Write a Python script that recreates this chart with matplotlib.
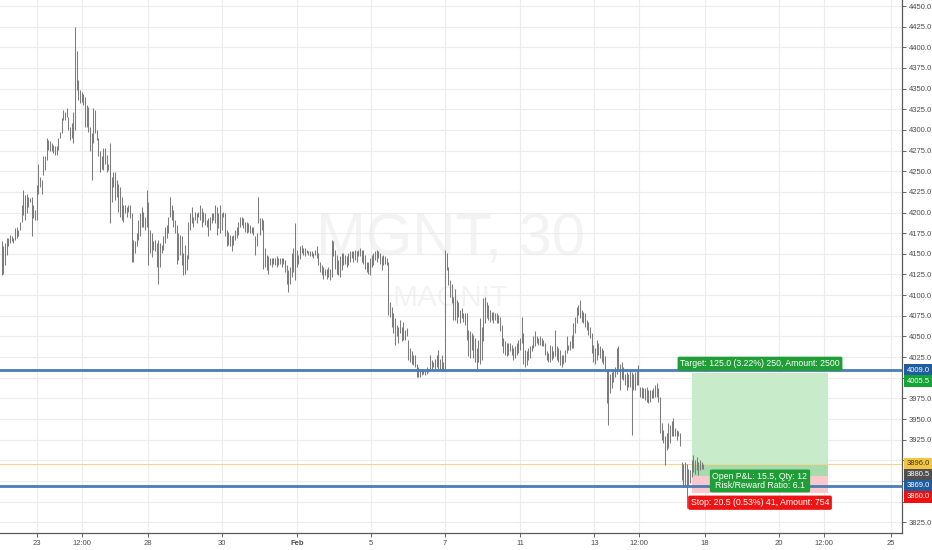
import matplotlib
matplotlib.use("Agg")
import numpy as np
import matplotlib.pyplot as plt
from matplotlib.patches import Rectangle

plt.rcParams["font.family"] = ["Liberation Sans", "DejaVu Sans"]

# MGNT 30 min bars, high / low (left to right)
highs = [
    4165, 4159, 4163, 4169, 4169, 4173, 4171, 4169, 4181, 4183, 4179, 4189, 4209, 4227, 4221,
    4223, 4219, 4217, 4219, 4209, 4203, 4233, 4259, 4243, 4239, 4268, 4268, 4290, 4288, 4286,
    4284, 4282, 4280, 4280, 4290, 4298, 4314, 4324, 4322, 4326, 4316, 4304, 4308, 4322, 4425,
    4395, 4360, 4348, 4346, 4344, 4340, 4330, 4328, 4304, 4296, 4326, 4324, 4300, 4290, 4274,
    4268, 4278, 4278, 4270, 4259, 4284, 4243, 4249, 4249, 4239,
    4235, 4231, 4219, 4209, 4209, 4207, 4209, 4209, 4199, 4167, 4165, 4175, 4191, 4199, 4207,
    4201, 4195, 4227, 4213, 4179, 4175, 4165, 4167, 4163, 4167, 4163, 4161, 4171, 4183, 4185,
    4195, 4219, 4209, 4203, 4191, 4185, 4175, 4173, 4171, 4151, 4161, 4148, 4189, 4199, 4207,
    4195, 4201, 4199, 4201, 4209, 4205, 4201, 4199, 4191, 4193, 4195, 4199, 4199, 4209, 4207,
    4199, 4209, 4199, 4201, 4199, 4179,
    4177, 4173, 4171, 4173, 4179, 4183, 4189, 4195, 4195, 4193, 4189, 4189, 4187, 4185, 4183,
    4183, 4171, 4175, 4219, 4193, 4193, 4191, 4157, 4149, 4147, 4145, 4145, 4145, 4145, 4147,
    4145, 4145, 4145, 4145, 4142, 4136, 4130, 4134, 4151, 4157, 4187, 4155, 4149, 4159, 4161,
    4157, 4157, 4155, 4153, 4153, 4153, 4151, 4155, 4159, 4151, 4140, 4136, 4134, 4132, 4132,
    4134, 4132, 4167, 4165, 4155, 4149,
    4143, 4147, 4151, 4151, 4149, 4147, 4151, 4153, 4153, 4153, 4155, 4153, 4155, 4157, 4155,
    4155, 4149, 4140, 4140, 4145, 4149, 4151, 4153, 4155, 4153, 4151, 4147, 4149, 4147, 4145,
    4140, 4092, 4086, 4078, 4072, 4064, 4062, 4070, 4062, 4068, 4058, 4060, 4046, 4036, 4032,
    4027, 4027, 4017, 4013, 4011, 4011, 4011, 4009, 4013, 4011, 4027, 4021, 4019, 4023, 4027,
    4034, 4023, 4027, 4019, 4155, 4151, 4134, 4118, 4114, 4098,
    4108, 4094, 4092, 4082, 4084, 4078, 4078, 4078, 4058, 4056, 4054, 4052, 4048, 4036, 4046,
    4072, 4062, 4096, 4098, 4092, 4088, 4082, 4080, 4080, 4078, 4078, 4076, 4074, 4064, 4048,
    4044, 4042, 4042, 4042, 4040, 4036, 4038, 4042, 4046, 4048, 4074, 4054, 4034, 4032, 4036,
    4038, 4040, 4050, 4056, 4050, 4048, 4050, 4048, 4046, 4042, 4032, 4030, 4040, 4038, 4032,
    4058, 4038, 4036, 4034, 4028, 4028, 4034, 4050, 4040, 4044, 4052,
    4066, 4074, 4086, 4088, 4094, 4082, 4080, 4078, 4070, 4068, 4062, 4054, 4040, 4036, 4046,
    4042, 4038, 4036, 4034, 4026, 4009, 4011, 4005, 4007, 4009, 4013, 4036, 4038, 4017, 4019,
    4013, 4005, 4007, 4005, 4009, 4007, 4005, 4007, 4011, 4015, 3989, 3989, 3987, 3987, 3989,
    3985, 3985, 3985, 3987, 3991, 3993, 3987, 3977, 3945, 3937, 3929, 3933, 3945, 3943, 3947,
    3951, 3939, 3937, 3935, 3933, 3898, 3896, 3898, 3896, 3890, 3888,
    3900, 3906, 3900, 3904, 3898, 3900, 3898, 3896,
]
lows = [
    4124, 4126, 4136, 4149, 4159, 4163, 4165, 4163, 4167, 4169, 4171, 4179, 4189, 4197, 4191,
    4199, 4207, 4213, 4171, 4193, 4191, 4191, 4223, 4231, 4223, 4245, 4251, 4264, 4276, 4274,
    4274, 4272, 4270, 4270, 4276, 4290, 4296, 4312, 4312, 4316, 4300, 4288, 4290, 4284, 4300,
    4348, 4336, 4332, 4334, 4330, 4304, 4304, 4298, 4274, 4239, 4284, 4296, 4288, 4268, 4249,
    4253, 4251, 4259, 4249, 4251, 4187, 4213, 4231, 4215, 4219,
    4201, 4195, 4191, 4189, 4199, 4195, 4201, 4193, 4140, 4140, 4151, 4159, 4167, 4171, 4183,
    4183, 4179, 4183, 4136, 4151, 4146, 4155, 4153, 4134, 4114, 4134, 4151, 4155, 4163, 4169,
    4175, 4195, 4191, 4183, 4175, 4138, 4142, 4148, 4136, 4124, 4126, 4130, 4144, 4179, 4187,
    4183, 4191, 4187, 4195, 4191, 4183, 4189, 4185, 4183, 4171, 4179, 4187, 4191, 4187, 4173,
    4181, 4175, 4179, 4195, 4171, 4159,
    4161, 4159, 4153, 4161, 4167, 4169, 4173, 4183, 4185, 4181, 4177, 4175, 4177, 4175, 4175,
    4173, 4149, 4159, 4187, 4173, 4179, 4132, 4134, 4130, 4126, 4136, 4134, 4138, 4136, 4134,
    4136, 4138, 4134, 4138, 4128, 4114, 4104, 4114, 4122, 4128, 4118, 4134, 4138, 4144, 4151,
    4149, 4147, 4151, 4149, 4147, 4147, 4145, 4149, 4145, 4136, 4128, 4124, 4120, 4124, 4120,
    4122, 4118, 4122, 4147, 4132, 4126,
    4124, 4122, 4130, 4136, 4138, 4134, 4136, 4140, 4145, 4140, 4142, 4140, 4147, 4147, 4140,
    4138, 4132, 4128, 4126, 4124, 4134, 4136, 4142, 4140, 4145, 4138, 4130, 4136, 4138, 4136,
    4076, 4074, 4062, 4054, 4040, 4050, 4042, 4054, 4044, 4046, 4046, 4050, 4021, 4019, 4017,
    4015, 4013, 4001, 4001, 4001, 4003, 4005, 4003, 4005, 4007, 4011, 4011, 4013, 4011, 4013,
    4011, 4009, 4009, 4009, 4009, 4130, 4112, 4098, 4090, 4070,
    4070, 4066, 4074, 4066, 4072, 4068, 4064, 4046, 4026, 4024, 4034, 4024, 4019, 4011, 4019,
    4017, 4021, 4044, 4066, 4072, 4070, 4068, 4070, 4066, 4070, 4066, 4066, 4056, 4038, 4030,
    4028, 4026, 4028, 4032, 4028, 4021, 4024, 4028, 4030, 4034, 4042, 4017, 4013, 4015, 4021,
    4024, 4032, 4036, 4038, 4042, 4040, 4040, 4038, 4038, 4028, 4021, 4019, 4019, 4021, 4024,
    4026, 4021, 4019, 4015, 4013, 4017, 4019, 4030, 4034, 4034, 4036,
    4036, 4054, 4066, 4076, 4072, 4068, 4066, 4062, 4058, 4052, 4048, 4030, 4019, 4017, 4021,
    4028, 4024, 4019, 4017, 4009, 3969, 3943, 3981, 3987, 3995, 4001, 4005, 4011, 3985, 3999,
    3997, 3991, 3985, 3989, 3989, 3931, 3985, 3985, 3991, 3991, 3977, 3975, 3975, 3973, 3971,
    3969, 3971, 3975, 3975, 3977, 3977, 3971, 3933, 3925, 3921, 3894, 3913, 3915, 3921, 3929,
    3929, 3929, 3925, 3929, 3917, 3876, 3868, 3868, 3842, 3870, 3872,
    3880, 3886, 3884, 3888, 3882, 3888, 3890, 3890,
]

# time axis labels and their bar positions
tick_pos = [21.2, 48.2, 87.8, 132.2, 177.2, 221.6, 266.0, 311.0, 355.7, 382.4, 422.0, 466.4, 493.4, 533.4]
tick_labels = ["23", "12:00", "28", "30", "Feb", "5", "7", "11", "13", "12:00", "18", "20", "12:00", "25"]

# price scale
price_ticks = np.arange(3825, 4451, 25)
hidden_ticks = [4000, 3900, 3875, 3850]   # covered by the coloured price tags

# horizontal levels and long position tool
levels = [4009.0, 3869.0]
last_price = 3896.0
entry, target, stop = 3880.5, 4005.5, 3860.0
pos_start, pos_end = 414.2, 495.8

# price tag, colour, text colour, vertical nudge in px (tags are pushed apart)
axis_marks = [
    (4009.0, "#1f5d9e", "white", 0),
    (4005.5, "#13a336", "white", 8),
    (3896.0, "#f4c542", "#333333", 0),
    (3880.5, "#505050", "white", -1.5),
    (3869.0, "#1f5d9e", "white", 0),
    (3860.0, "#f01010", "white", 3.5),
]

fig = plt.figure(figsize=(9.32, 5.5), dpi=100)
ax = fig.add_axes([0, 17 / 550, 902 / 932, 533 / 550])
ax.set_xlim(-1.0, 540.2)
ax.set_ylim(3812, 4457.3)

# watermark
ax.text(0.499, 0.55, "MGNT, 30", transform=ax.transAxes, fontsize=43,
        color="#f3f3f3", ha="center", va="center", zorder=0.5)
ax.text(0.499, 0.441, "MAGNIT", transform=ax.transAxes, fontsize=21.5,
        color="#f3f3f3", ha="center", va="center", zorder=0.5)

x = np.arange(len(highs))
ax.vlines(x, lows, highs, color="#7c7c7c", lw=0.75, zorder=3)

# position boxes
w = pos_end - pos_start
ax.add_patch(Rectangle((pos_start, entry), w, target - entry, fc="#c8ebca", ec="none", zorder=2))
ax.add_patch(Rectangle((pos_start, entry), w, last_price - entry, fc="#a6dcab", ec="none", zorder=2.1))
ax.add_patch(Rectangle((pos_start, stop), w, entry - stop, fc="#f8c8cc", ec="none", zorder=2))

for lv in levels:
    ax.axhline(lv, color="#4a7db4", lw=2.0, zorder=4)
ax.axhline(last_price, color="#f3d58f", lw=0.8, zorder=2.5)

mid = (pos_start + pos_end) / 2
green = "#1f9d36"
ax.annotate("Target: 125.0 (3.22%) 250, Amount: 2500", xy=(mid, target), xytext=(0, 3.5),
            textcoords="offset points", ha="center", va="bottom", fontsize=6.3, color="white",
            bbox=dict(boxstyle="round,pad=0.3,rounding_size=0.2", fc=green, ec="none"), zorder=6)
ax.annotate("Open P&L: 15.5, Qty: 12\nRisk/Reward Ratio: 6.1", xy=(mid, 3875), ha="center",
            va="center", fontsize=6.3, color="white", linespacing=0.95,
            bbox=dict(boxstyle="round,pad=0.3,rounding_size=0.2", fc=green, ec="none"), zorder=6)
ax.annotate("Stop: 20.5 (0.53%) 41, Amount: 754", xy=(mid, stop), xytext=(0, -3.5),
            textcoords="offset points", ha="center", va="top", fontsize=6.3, color="white",
            bbox=dict(boxstyle="round,pad=0.3,rounding_size=0.2", fc="#ee1414", ec="none"), zorder=6)

# axes styling
ax.yaxis.tick_right()
ax.set_yticks(price_ticks)
ax.set_yticklabels(["" if v in hidden_ticks else f"{v:.1f}" for v in price_ticks])
ax.set_xticks(tick_pos)
ax.set_xticklabels(tick_labels)
for lab in ax.get_xticklabels():
    if lab.get_text() == "Feb":
        lab.set_fontweight("bold")
ax.tick_params(axis="both", labelsize=5.5, colors="#4c4c4c", length=3, width=0.6, pad=2)
ax.grid(color="#ececec", lw=0.8, zorder=0)
ax.set_axisbelow(True)
for s in ["top", "left"]:
    ax.spines[s].set_visible(False)
for s in ["right", "bottom"]:
    ax.spines[s].set_color("#5a5a5a")
    ax.spines[s].set_linewidth(0.9)

for price, fc, tc, nudge in axis_marks:
    ax.annotate(f"{price:.1f}", xy=(1, price), xycoords=("axes fraction", "data"),
                xytext=(3.2, -nudge * 0.72), textcoords="offset points", ha="left", va="center",
                fontsize=5.5, color=tc,
                bbox=dict(boxstyle="square,pad=0.3", fc=fc, ec="none"),
                annotation_clip=False, zorder=7)

fig.savefig("out.png", dpi=100)
